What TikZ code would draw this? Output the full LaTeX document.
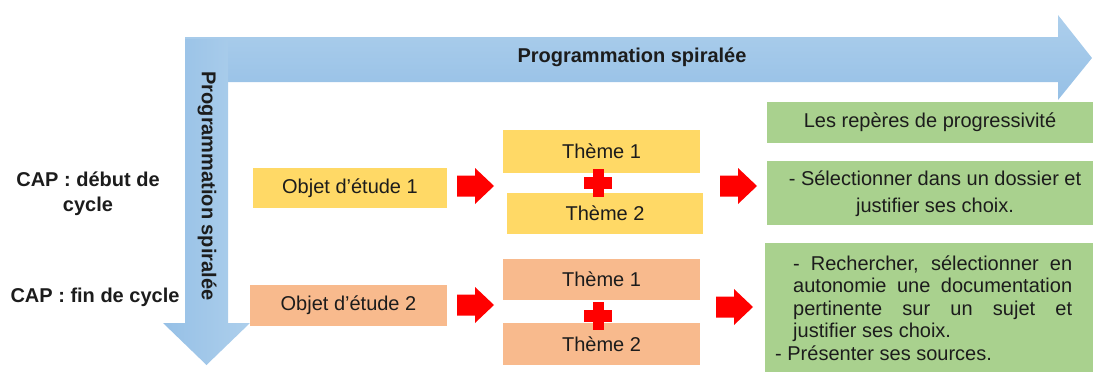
\documentclass[tikz,border=0pt]{standalone}
\usepackage{fontspec}
\setmainfont{Liberation Sans}
\definecolor{yelfill}{HTML}{FFD966}
\definecolor{orafill}{HTML}{F8BA8D}
\definecolor{grnfill}{HTML}{A9D18E}
\definecolor{bluedark}{HTML}{96C0E6}
\definecolor{bluelight}{HTML}{ADCFEC}
\definecolor{txtcol}{HTML}{1C1C1C}
\begin{document}
\begin{tikzpicture}[x=1pt,y=-1pt,
  txt/.style={font=\fontsize{20}{24}\selectfont, text=txtcol},
  btxt/.style={font=\fontsize{20}{25}\selectfont\bfseries, text=txtcol},
  box/.style={txt, inner sep=0pt, outer sep=0pt},
  yelbox/.style={box, fill=yelfill},
  orabox/.style={box, fill=orafill},
  grnbox/.style={box, fill=grnfill},
  redarr/.pic={\fill[red] (0,-10.5) -- (18,-10.5) -- (18,-18) -- (37,0) -- (18,18) -- (18,10.5) -- (0,10.5) -- cycle;},
  redplus/.pic={\fill[red] (-5.5,-14) rectangle (5.5,14); \fill[red] (-14,-6) rectangle (14,6);}
]
\useasboundingbox (0,0) rectangle (1093,372);

% big blue arrows
\shade[top color=bluelight, bottom color=bluedark]
  (185,37) -- (1058,37) -- (1058,15) -- (1092,58) -- (1058,100) -- (1058,82) -- (185,82) -- cycle;
\shade[left color=bluedark, right color=bluelight]
  (185,39) -- (228,39) -- (228,323) -- (250,323) -- (206.5,365) -- (163,323) -- (185,323) -- cycle;
\node[btxt] (htitle) at (632,57) {Programmation spiralée};
\node[btxt, rotate=-90] (vtitle) at (207,186) {Programmation spiralée};

% left labels
\node[btxt, align=center] (deb) at (88,194) {CAP : début de\\cycle};
\node[btxt] (fin) at (95,297) {CAP : fin de cycle};

% yellow row
\node[yelbox, minimum width=194pt, minimum height=40pt] (obj1) at (350,188) {Objet d’étude 1};
\node[yelbox, minimum width=197pt, minimum height=43pt] (yt1) at (601.5,151.5) {Thème 1};
\node[yelbox, minimum width=196pt, minimum height=41pt] (yt2) at (605,213.5) {Thème 2};

% orange row
\node[orabox, minimum width=197pt, minimum height=41pt] (obj2) at (348.5,305.5) {Objet d’étude 2};
\node[orabox, minimum width=197pt, minimum height=41pt] (ot1) at (601.5,279.5) {Thème 1};
\node[orabox, minimum width=197pt, minimum height=42pt] (ot2) at (601.5,344) {Thème 2};

\pic at (598,183) {redplus};
\pic at (598,316) {redplus};

% green boxes
\node[grnbox, minimum width=326pt, minimum height=41pt] (g1) at (930,122.5) {Les repères de progressivité};
\node[grnbox, minimum width=326pt, minimum height=64pt] (g2) at (930,193) {};
\node[txt, align=center, font=\fontsize{20}{27}\selectfont] (g2t) at (935,193.5) {- Sélectionner dans un dossier et\\justifier ses choix.};
\node[grnbox, minimum width=328pt, minimum height=129pt] (g3) at (929,307.5) {};
\node[txt, align=left, inner sep=0pt, font=\fontsize{20}{22.5}\selectfont, anchor=west] (g3t) at (775,308)
  {\hspace*{18pt}\makebox[279pt][s]{- Rechercher, sélectionner en}\\
   \hspace*{18pt}\makebox[279pt][s]{autonomie une documentation}\\
   \hspace*{18pt}\makebox[279pt][s]{pertinente sur un sujet et}\\
   \hspace*{18pt}justifier ses choix.\\
   - Présenter ses sources.};

% red block arrows
\pic at (457,186) {redarr};
\pic at (720,186) {redarr};
\pic at (457,305) {redarr};
\pic at (716,307) {redarr};
\end{tikzpicture}
\end{document}
